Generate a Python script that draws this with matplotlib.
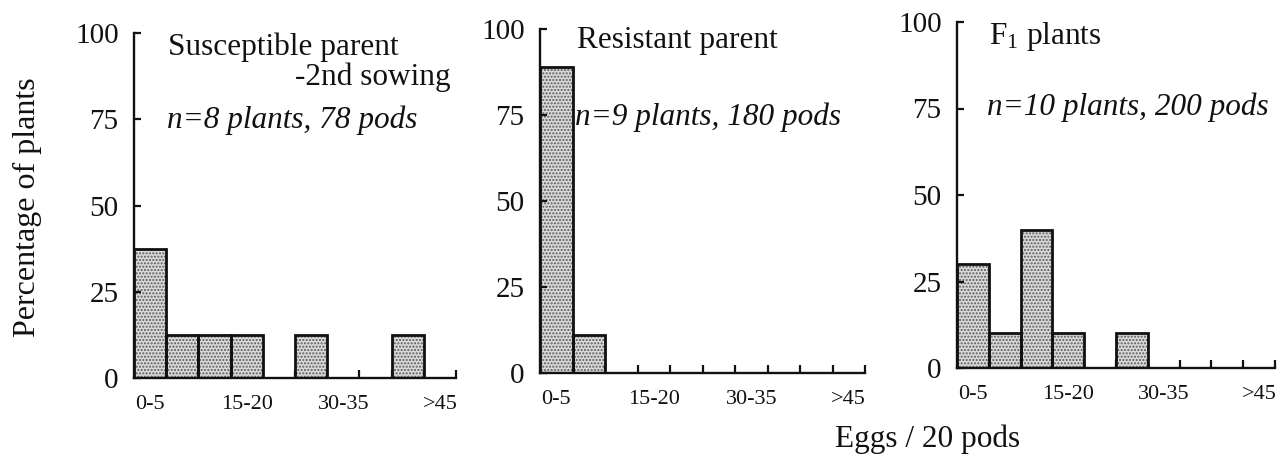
import matplotlib
matplotlib.use("Agg")
import matplotlib.pyplot as plt

plt.rcParams['font.family'] = ['Liberation Serif', 'DejaVu Serif']
plt.rcParams['mathtext.fontset'] = 'custom'
plt.rcParams['mathtext.rm'] = 'Liberation Serif'
plt.rcParams['mathtext.it'] = 'Liberation Serif:italic'

# egg-count classes (eggs per 20 pods)
bins = ['0-5', '5-10', '10-15', '15-20', '20-25', '25-30', '30-35', '35-40', '40-45', '>45']
shown_labels = ['0-5', '15-20', '30-35', '>45']

# percentage of plants in each class
susceptible = [37.5, 12.5, 12.5, 12.5, 0, 12.5, 0, 0, 12.5, 0]
resistant = [88.9, 11.1, 0, 0, 0, 0, 0, 0, 0, 0]
f1_plants = [30, 10, 40, 10, 0, 10, 0, 0, 0, 0]

W, H = 1284, 459
fig = plt.figure(figsize=(W / 100, H / 100), dpi=100)


def px_axes(left, right, y0, y100):
    return fig.add_axes([left / W, 1 - y0 / H, (right - left) / W, (y0 - y100) / H])


def draw_panel(ax, values):
    x = list(range(len(bins)))
    # stippled fill first, then the black outlines on top
    ax.bar(x, values, width=1, align='edge', color='#d9d9d9',
           edgecolor='#5a5a5a', hatch='.....', linewidth=0)
    ax.bar(x, values, width=1, align='edge', fill=False,
           edgecolor='#111111', linewidth=2.0)
    ax.set_xlim(0, len(bins))
    ax.set_ylim(0, 100)
    for s in ['top', 'right']:
        ax.spines[s].set_visible(False)
    for s in ['left', 'bottom']:
        ax.spines[s].set_linewidth(1.7)
        ax.spines[s].set_color('#111111')
    ax.set_yticks([0, 25, 50, 75, 100])
    ax.tick_params(axis='y', direction='in', length=5, width=1.6, pad=11,
                   labelsize=21, colors='#111111')
    # ticks at class boundaries, labels at class centres
    ax.set_xticks(range(1, len(bins) + 1))
    ax.set_xticklabels([])
    ax.tick_params(axis='x', which='major', direction='in', length=6, width=1.6,
                   colors='#111111')
    ax.set_xticks([bins.index(b) + 0.5 for b in shown_labels], minor=True)
    ax.set_xticklabels(shown_labels, minor=True)
    ax.tick_params(axis='x', which='minor', length=0, pad=12, labelsize=16,
                   colors='#111111')


ax1 = px_axes(134, 456, 378, 33)
ax2 = px_axes(540, 865, 373, 29)
ax3 = px_axes(957, 1275, 368, 22)

draw_panel(ax1, susceptible)
draw_panel(ax2, resistant)
draw_panel(ax3, f1_plants)


def label(xp, yp, s, **kw):
    kw.setdefault('fontsize', 22.5)
    kw.setdefault('color', '#111111')
    fig.text(xp / W, 1 - yp / H, s, va='baseline', ha='left', **kw)


label(168, 55, 'Susceptible parent')
label(295, 85, '-2nd sowing')
label(167, 128, 'n=8 plants, 78 pods', style='italic')

label(577, 48, 'Resistant parent')
label(575, 125, 'n=9 plants, 180 pods', style='italic')

label(989, 44, r'F$_{\mathrm{1}}$ plants')
label(987, 115, 'n=10 plants, 200 pods', style='italic')

fig.text(27 / W, 1 - 207 / H, 'Percentage of plants', rotation=90,
         ha='center', va='center', fontsize=23, color='#111111')
label(835, 447, 'Eggs / 20 pods')

fig.savefig('out.png', dpi=100)
